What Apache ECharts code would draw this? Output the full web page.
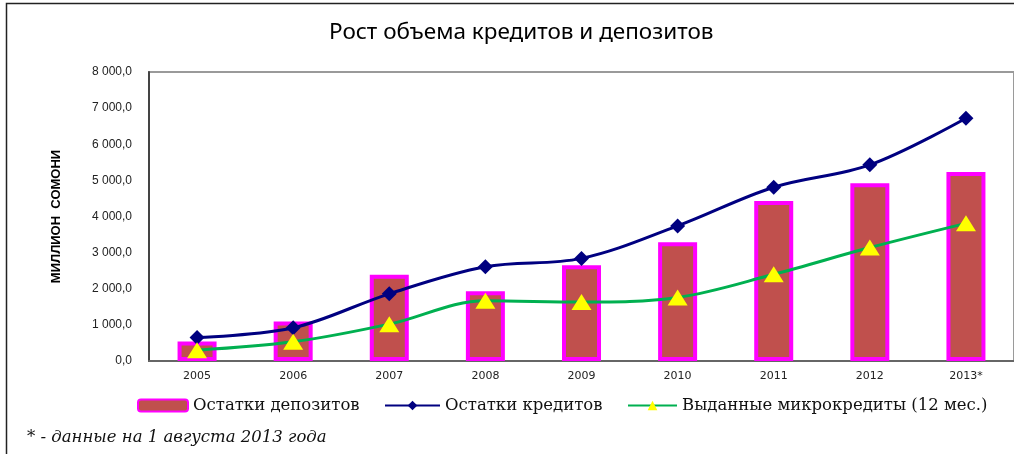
<!DOCTYPE html>
<html>
<head>
<meta charset="utf-8">
<script src="https://cdn.jsdelivr.net/npm/echarts@6/dist/echarts.min.js"></script>
<style>
  html, body { margin: 0; padding: 0; background: #fff; }
  #chart { width: 1014px; height: 454px; }
</style>
</head>
<body>
<div id="chart"></div>
<script>
var years = ['2005', '2006', '2007', '2008', '2009', '2010', '2011', '2012', '2013*'];
// остатки депозитов (столбцы)
var deposits = [540, 1090, 2390, 1930, 2650, 3290, 4430, 4920, 5230];
// остатки кредитов
var credits = [650, 920, 1860, 2610, 2840, 3740, 4810, 5430, 6720];
// выданные микрокредиты (12 мес.)
var micro = [300, 530, 1020, 1670, 1630, 1760, 2400, 3140, 3810];
var yTicks = [0, 1000, 2000, 3000, 4000, 5000, 6000, 7000, 8000];

function fmt(v) {
    var s = String(Math.round(v));
    s = s.replace(/\B(?=(\d{3})+(?!\d))/g, ' ');
    return s + ',0';
}

var chart = echarts.init(document.getElementById('chart'));

var legendText = {
    fontFamily: 'DejaVu Serif',
    fontSize: 16.5,
    color: '#111'
};

var option = {
    animation: false,
    title: {
        text: 'Рост объема кредитов и депозитов',
        left: 324,
        top: 16,
        textStyle: {
            fontFamily: 'Noto Sans',
            fontWeight: 'normal',
            fontSize: 22.5,
            color: '#000'
        }
    },
    graphic: [
        {
            type: 'rect',
            shape: { x: 6.5, y: 3.5, width: 1100, height: 600 },
            style: { fill: 'none', stroke: '#222', lineWidth: 1.5 },
            silent: true
        },
        {
            type: 'text',
            left: 27,
            top: 429,
            style: {
                text: '* - данные на 1 августа 2013 года',
                font: 'italic 16.5px "DejaVu Serif"',
                fill: '#111'
            }
        }
    ],
    legend: [
        {
            left: 137, top: 397, padding: 0,
            itemWidth: 50, itemHeight: 12,
            data: ['Остатки депозитов'],
            textStyle: legendText
        },
        {
            left: 384, top: 397, padding: 0,
            itemWidth: 55, itemHeight: 12,
            data: ['Остатки кредитов'],
            textStyle: legendText
        },
        {
            left: 627, top: 397, padding: 0,
            itemWidth: 49, itemHeight: 12,
            data: ['Выданные микрокредиты (12 мес.)'],
            textStyle: legendText
        }
    ],
    grid: {
        left: 149,
        top: 72,
        width: 866,
        height: 289,
        show: true,
        borderColor: '#9a9a9a',
        borderWidth: 2,
        backgroundColor: 'transparent'
    },
    xAxis: {
        type: 'category',
        data: years,
        axisTick: { show: false },
        axisLine: { lineStyle: { color: '#666', width: 2 } },
        axisLabel: {
            color: '#222',
            fontFamily: 'DejaVu Sans',
            fontSize: 11,
            margin: 10
        }
    },
    yAxis: {
        type: 'value',
        min: yTicks[0],
        max: yTicks[yTicks.length - 1],
        interval: 1000,
        name: 'МИЛЛИОН  СОМОНИ',
        nameLocation: 'middle',
        nameRotate: 90,
        nameGap: 86,
        nameTextStyle: {
            fontFamily: 'Liberation Sans',
            fontWeight: 'bold',
            fontSize: 13,
            color: '#000'
        },
        axisLine: { show: true, lineStyle: { color: '#444', width: 2 } },
        axisTick: { show: false },
        splitLine: { show: false },
        axisLabel: {
            color: '#222',
            fontFamily: 'Liberation Sans',
            fontSize: 12,
            margin: 17,
            formatter: fmt
        }
    },
    series: [
        {
            name: 'Остатки депозитов',
            type: 'bar',
            data: deposits,
            barWidth: 39,
            itemStyle: {
                color: '#C0504D',
                borderColor: '#FF00FF',
                borderWidth: 4
            },
            z: 1
        },
        {
            name: 'Остатки кредитов',
            type: 'line',
            data: credits,
            smooth: 0.35,
            symbol: 'diamond',
            symbolSize: 15,
            lineStyle: { color: '#000080', width: 3 },
            itemStyle: { color: '#000080' },
            z: 3
        },
        {
            name: 'Выданные микрокредиты (12 мес.)',
            type: 'line',
            data: micro,
            smooth: 0.35,
            symbol: 'triangle',
            symbolSize: [20, 16],
            lineStyle: { color: '#00B050', width: 3 },
            itemStyle: { color: '#FFFF00' },
            z: 4
        }
    ]
};

chart.setOption(option);
</script>
</body>
</html>
